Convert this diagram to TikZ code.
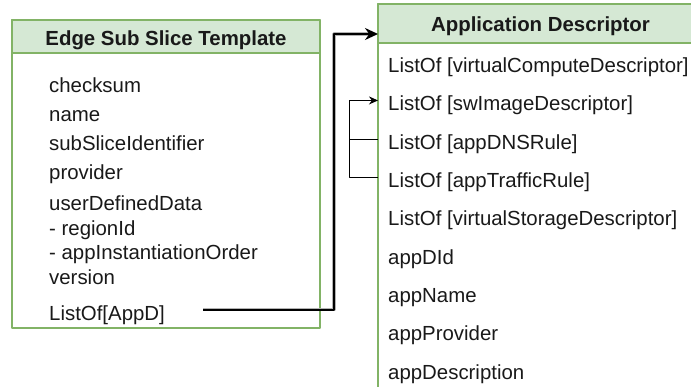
\documentclass[tikz,border=0pt]{standalone}
\usepackage{fontspec}
\setmainfont{Liberation Sans}
\usetikzlibrary{arrows.meta}
\definecolor{hdrgreen}{HTML}{D5E8D4}
\definecolor{bordgreen}{HTML}{82B366}
\newcommand\diafont{\fontsize{20.4}{24.5}\selectfont}
\tikzset{
	box/.style={draw=bordgreen,line width=1.2pt},
	hdr/.style={box,fill=hdrgreen},
	title/.style={font=\diafont\bfseries,anchor=base},
	row/.style={anchor=west,inner xsep=10pt,inner ysep=0pt,text height=21pt,text depth=0pt},
	link/.style={-{Stealth[length=13pt,width=12pt]},line width=2pt,
		preaction={draw=black!30,line width=3.6pt,arrows=-,shorten >=9pt}},
	flow/.style={-{Stealth[length=9pt,width=8pt]},line width=1pt}
}
\begin{document}
\begin{tikzpicture}[x=1pt,y=-1pt,line join=round,font=\diafont,text=black!90]
	\useasboundingbox (0,0) rectangle (691,386);
	\clip (0,0) rectangle (691,386);
	% edge sub slice template
	\draw[box] (12,20) rectangle (320,328);
	\draw[hdr] (12,20) rectangle (320,53);
	\node[title] (esst) at (166,45) {Edge Sub Slice Template};
	\foreach \y/\t [count=\i] in {92/checksum,121.5/name,150.5/subSliceIdentifier,179/provider,
		210.5/userDefinedData,235/- regionId,259.5/- appInstantiationOrder,284/version}
		\node[anchor=base west,inner sep=0pt] (e\i) at (49,\y) {\t};
	\node[row] (appd) at (39,309.5) {ListOf[AppD]};
	% application descriptor
	\draw[box] (378,4) rectangle (703,392);
	\draw[hdr] (378,4) rectangle (703,43);
	\node[title] (adhdr) at (540.5,31) {Application Descriptor};
	\foreach \t [count=\i] in {ListOf [virtualComputeDescriptor],ListOf [swImageDescriptor],
		ListOf [appDNSRule],ListOf [appTrafficRule],ListOf [virtualStorageDescriptor],
		appDId,appName,appProvider,appDescription}
		\node[row] (r\i) at (378,{43+38.3*(\i-0.5)}) {\t};
	% connectors
	\coordinate (adin) at (378,34);
	\draw[link] ([xshift=28pt]appd.east) -| ([xshift=-44pt]adin) -- (adin);
	\draw (r3.west) -- ++(-29,0);
	\draw[flow] (r4.west) -- ++(-29,0) |- (r2.west);
\end{tikzpicture}
\end{document}
